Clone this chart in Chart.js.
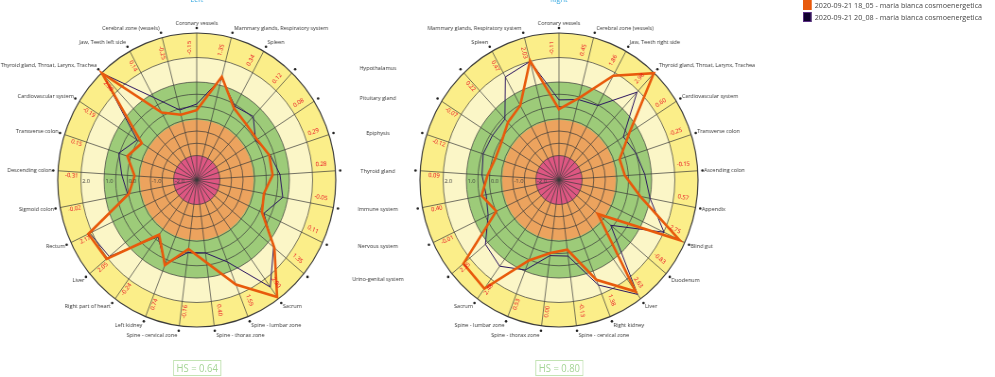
<!DOCTYPE html>
<html>
<head>
<meta charset="utf-8">
<title>Left / Right</title>
<script src="https://cdn.jsdelivr.net/npm/chart.js@4.4.1/dist/chart.umd.min.js"></script>
<style>
html,body{margin:0;padding:0;background:#ffffff;width:995px;height:377px;overflow:hidden;}
#wrap{position:absolute;left:0;top:0;width:1052px;height:377px;transform:scaleX(0.9458);transform-origin:0 0;font-family:"Open Sans",sans-serif;}
#wrap canvas{position:absolute;left:0;top:0;width:1052px;height:377px;}
.hs{position:absolute;top:360px;width:49px;height:14px;margin-left:-25px;border:1px solid #c3e3b4;color:#a5d596;font-size:10px;line-height:14px;text-align:center;}
#legend{position:absolute;left:849px;top:-0.5px;}
.li{height:10px;margin-bottom:2.7px;display:flex;align-items:center;white-space:nowrap;font-size:7.6px;color:#444;}
.li b{display:inline-block;width:9px;height:10px;box-sizing:border-box;margin-right:3.4px;}
</style>
</head>
<body>
<div id="wrap">
<canvas id="cl" width="1052" height="377"></canvas>
<canvas id="cr" width="1052" height="377"></canvas>
<div id="legend"></div>
<div class="hs" id="hsL" style="left:208px"></div>
<div class="hs" id="hsR" style="left:591px"></div>
</div>
<script>
// ---------------- data ----------------
const seriesNames = [
  '2020-09-21 18_05 - maria bianca cosmoenergetica',
  '2020-09-21 20_08 - maria bianca cosmoenergetica'
];
const chartTitles = ['Left', 'Right'];
const hsValues = ['0.64', '0.80'];

const leftLabels = ['Coronary vessels','Mammary glands, Respiratory system','Spleen','Hypothalamus','Pituitary gland','Epiphysis','Thyroid gland','Immune system','Nervous system','Urino-genital system','Sacrum','Spine - lumbar zone','Spine - thorax zone','Spine - cervical zone','Left kidney','Right part of heart','Liver','Rectum','Sigmoid colon','Descending colon','Transverse colon','Cardiovascular system','Thyroid gland, Throat, Larynx, Trachea','Jaw, Teeth left side','Cerebral zone (vessels)'];
const rightLabels = ['Coronary vessels','Cerebral zone (vessels)','Jaw, Teeth right side','Thyroid gland, Throat, Larynx, Trachea','Cardiovascular system','Transverse colon','Ascending colon','Appendix','Blind gut','Duodenum','Liver','Right kidney','Spine - cervical zone','Spine - thorax zone','Spine - lumbar zone','Sacrum','Urino-genital system','Nervous system','Immune system','Thyroid gland','Epiphysis','Pituitary gland','Hypothalamus','Spleen','Mammary glands, Respiratory system'];

const leftSeries1  = [-0.15, 1.35, 0.34, 0.12, 0.08, 0.29, 0.28, -0.05, 0.11, 1.35, 2.90, 1.59, 0.40, -0.16, 0.74, -0.24, 2.05, 2.17, -0.02, -0.31, 0.15, -0.19, 2.98, 0.14, -0.25];
const leftSeries2  = [0.10, 1.30, 0.43, 0.56, 0.01, 0.33, 0.60, 0.78, 0.20, 1.30, 2.40, 0.60, 0.00, -0.02, 0.69, -0.15, 1.90, 2.10, 0.04, 0.24, 0.54, 0.05, 2.98, 0.84, -0.05];
const rightSeries1 = [-0.11, 0.45, 1.86, 2.98, 0.60, -0.25, -0.15, 0.57, 2.75, -0.83, 2.63, 1.38, -0.13, 0.00, 0.53, 2.48, 2.35, -0.01, 0.40, 0.09, -0.12, -0.07, 0.22, 0.47, 2.03];
const rightSeries2 = [0.27, 0.39, 0.47, 1.92, 0.29, 0.50, 0.71, 1.00, 2.01, -0.10, 2.77, 1.61, 0.13, 0.11, 0.95, 1.35, 1.12, 0.38, 0.20, 0.33, 0.44, 0.40, 0.41, 1.80, 2.00];

const tickLabels = [2, 1, 0, -1, -2];
const gridValues = [-2, -1.5, -1, -0.5, 0, 0.5, 1, 2, 3];
const bandLimits = [-3, -2, -0.55, 1, 2, 3];

// ---------------- styles ----------------
const bandColors = ['#de5782', '#eca35e', '#9dcb79', '#fbf6c7', '#fbee89'];
const seriesColors = [
  {line: '#e85a0c', box: '#e85a0c', edge: '#e85a0c'},
  {line: '#2b1460', box: '#10002e', edge: '#5b2f86'}
];
const FONT = '"Open Sans", sans-serif';
Chart.defaults.font.family = FONT;

const radarDecor = {
  id: 'radarDecor',
  beforeDraw(chart) {
    const s = chart.scales.r, ctx = chart.ctx;
    ctx.save();
    for (let i = bandLimits.length - 1; i > 0; i--) {
      ctx.beginPath();
      ctx.arc(s.xCenter, s.yCenter, s.getDistanceFromCenterForValue(bandLimits[i]), 0, Math.PI * 2);
      ctx.fillStyle = bandColors[i - 1];
      ctx.fill();
    }
    ctx.restore();
  },
  afterDraw(chart, args, o) {
    const s = chart.scales.r, ctx = chart.ctx;
    const labels = chart.data.labels;
    const vals = chart.data.datasets[0].data;
    const R = s.drawingArea;
    ctx.save();
    // radial tick labels along the left horizontal
    ctx.font = '5.8px ' + FONT;
    ctx.fillStyle = '#3c3c3c';
    ctx.textAlign = 'left';
    ctx.textBaseline = 'middle';
    tickLabels.forEach(v => {
      ctx.fillText(v.toFixed(1), s.xCenter - s.getDistanceFromCenterForValue(v) + 1.5, s.yCenter + 1.5);
    });
    labels.forEach((lab, i) => {
      const th = s.getIndexAngle(i);
      const deg = th * 180 / Math.PI;
      const p = s.getPointPosition(i, R + 5);
      ctx.beginPath();
      ctx.arc(p.x, p.y, 1.3, 0, Math.PI * 2);
      ctx.fillStyle = '#222';
      ctx.fill();
      ctx.font = '5.7px ' + FONT;
      ctx.fillStyle = '#333';
      ctx.textBaseline = 'middle';
      if (o.middle.includes(i)) {
        ctx.textAlign = 'center';
        ctx.fillText(lab, o.midX, p.y - 2.5 * Math.cos(th) + 0.8);
      } else if (!o.skip.includes(i)) {
        let x = p.x;
        if (Math.abs(deg) < 0.5 || Math.abs(deg - 180) < 0.5) ctx.textAlign = 'center';
        else if (deg < 180) { ctx.textAlign = 'left'; x = p.x + 1.6; }
        else { ctx.textAlign = 'right'; x = p.x - 1.6; }
        ctx.fillText(lab, x, p.y - 4.8 * Math.cos(th));
      }
      // value label inside outer ring
      const right = deg <= 180;
      const q = s.getPointPosition(i, s.getDistanceFromCenterForValue(2.5) - 2.5);
      const off = right ? 7.5 : 4;
      const cxp = q.x - off * Math.cos(th), cyp = q.y - off * Math.sin(th);
      ctx.save();
      ctx.translate(cxp, cyp);
      ctx.rotate(right ? th - Math.PI / 2 : th + Math.PI / 2);
      ctx.font = '6px ' + FONT;
      ctx.fillStyle = '#e8001c';
      ctx.textAlign = 'center';
      ctx.textBaseline = 'middle';
      ctx.fillText(Number(vals[i]).toFixed(2), 0, 0);
      ctx.restore();
    });
    ctx.restore();
  }
};

function makeRadar(id, title, labels, d1, d2, padLeft, deco) {
  return new Chart(document.getElementById(id), {
    type: 'radar',
    data: {
      labels: labels,
      datasets: [d1, d2].map((d, k) => ({
        label: seriesNames[k],
        data: d,
        borderColor: seriesColors[k].line,
        backgroundColor: seriesColors[k].box,
        borderWidth: k === 0 ? 2.6 : 1,
        pointRadius: 0,
        pointHoverRadius: 0,
        fill: false,
        clip: false,
        tension: 0
      }))
    },
    options: {
      responsive: false,
      animation: false,
      devicePixelRatio: 1,
      layout: {padding: {left: padLeft, right: 1052 - padLeft - 294, top: -5, bottom: 50}},
      plugins: {
        legend: {display: false},
        tooltip: {enabled: false},
        title: {display: true, text: title, color: '#2ba4df', font: {size: 7.5, weight: 'normal'}, padding: {top: 0, bottom: 29}},
        radarDecor: deco
      },
      scales: {
        r: {
          min: -3, max: 3,
          ticks: {display: false, stepSize: 0.5},
          pointLabels: {display: false},
          grid: {
            circular: true,
            color: c => gridValues.includes(c.tick.value) ? '#3a3a3a' : 'rgba(0,0,0,0)',
            lineWidth: c => c.tick.value === 3 ? 1.2 : 0.7
          },
          angleLines: {color: '#3a3a3a', lineWidth: 0.7}
        }
      }
    },
    plugins: [radarDecor]
  });
}

makeRadar('cl', chartTitles[0], leftLabels, leftSeries1, leftSeries2, 61, {middle: [3,4,5,6,7,8,9], skip: [], midX: 399.5});
makeRadar('cr', chartTitles[1], rightLabels, rightSeries1, rightSeries2, 444, {middle: [], skip: [16,17,18,19,20,21,22], midX: 399.5});

// legend and HS boxes
const lg = document.getElementById('legend');
seriesNames.forEach((n, k) => {
  const d = document.createElement('div');
  d.className = 'li';
  const b = document.createElement('b');
  b.style.background = seriesColors[k].box;
  b.style.border = '1px solid ' + seriesColors[k].edge;
  d.appendChild(b);
  d.appendChild(document.createTextNode(n));
  lg.appendChild(d);
});
document.getElementById('hsL').textContent = 'HS = ' + hsValues[0];
document.getElementById('hsR').textContent = 'HS = ' + hsValues[1];
</script>
</body>
</html>
